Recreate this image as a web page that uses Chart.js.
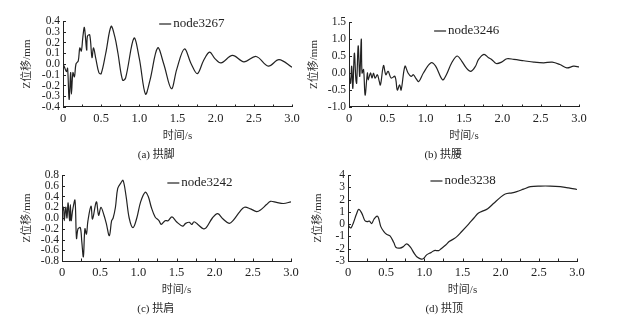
<!DOCTYPE html>
<html>
<head>
<meta charset="utf-8">
<script src="https://cdn.jsdelivr.net/npm/chart.js@4.4.1/dist/chart.umd.min.js"></script>
<style>
  html, body { margin: 0; padding: 0; background: #fff; }
  #wrap { position: relative; width: 618px; height: 322px; overflow: hidden; }
  canvas { position: absolute; }
</style>
</head>
<body>
<div id="wrap">
  <canvas id="cA" width="310" height="166" style="left:0px;top:0px"></canvas>
  <canvas id="cB" width="322" height="166" style="left:296px;top:0px"></canvas>
  <canvas id="cC" width="310" height="162" style="left:0px;top:160px"></canvas>
  <canvas id="cD" width="322" height="162" style="left:296px;top:160px"></canvas>
</div>
<script>
// time axis labels (shared by all panels)
const xTickLabels = ["0", "0.5", "1.0", "1.5", "2.0", "2.5", "3.0"];
const xMinorStep = 0.25;
const yTitle = "Z位移/mm";
const xTitle = "时间/s";
const captions = ["(a) 拱脚", "(b) 拱腰", "(c) 拱肩", "(d) 拱顶"];
const nodes = ["node3267", "node3246", "node3242", "node3238"];

// (a) 拱脚
const tA = [0, 0.02, 0.044, 0.06, 0.08, 0.1, 0.11, 0.13, 0.15, 0.17, 0.2, 0.22, 0.24, 0.26, 0.28, 0.31, 0.32, 0.35, 0.38, 0.4, 0.43,
            0.47, 0.5, 0.56, 0.63, 0.68, 0.72, 0.78, 0.82, 0.93, 1.0, 1.08, 1.14, 1.24, 1.32, 1.42, 1.49, 1.59, 1.68, 1.76,
            1.84, 1.92, 1.99, 2.07, 2.22, 2.37, 2.53, 2.69, 2.83, 3.0];
const zA = [0.0, -0.03, -0.07, -0.04, -0.33, -0.08, -0.28, -0.08, -0.12, 0.0, 0.03, 0.15, 0.12, 0.25, 0.34, 0.13, 0.26, 0.27, 0.06, 0.15, 0.05,
            -0.08, -0.09, 0.1, 0.35, 0.25, 0.1, -0.15, -0.13, 0.24, 0.05, -0.28, -0.15, 0.15, 0.0, -0.23, -0.05, 0.14, 0.0, -0.09,
            0.03, 0.11, 0.05, 0.01, 0.08, 0.02, 0.07, -0.02, 0.04, -0.03];

// (b) 拱腰
const tB = [0, 0.02, 0.035, 0.05, 0.07, 0.09, 0.1, 0.12, 0.14, 0.16, 0.17, 0.19, 0.21, 0.24, 0.25, 0.28, 0.3, 0.32, 0.34, 0.37, 0.39,
            0.41, 0.45, 0.48, 0.51, 0.55, 0.6, 0.63, 0.66, 0.68, 0.73, 0.77, 0.81, 0.84, 0.87, 0.91, 0.97, 1.07, 1.13, 1.22,
            1.27, 1.34, 1.41, 1.47, 1.53, 1.59, 1.65, 1.69, 1.76, 1.82, 1.86, 1.92, 1.99, 2.06, 2.15, 2.28, 2.41, 2.54, 2.65,
            2.75, 2.84, 2.93, 3.0];
const zB = [0.0, -0.3, 0.2, -0.45, 0.58, -0.2, -0.3, 0.8, -0.1, 1.0, 0.0, 0.1, -0.65, 0.0, -0.2, 0.0, -0.15, 0.0, -0.15, -0.05, -0.2,
            -0.35, 0.22, -0.05, 0.05, -0.15, -0.1, -0.5, -0.35, -0.5, 0.2, 0.0, -0.1, -0.05, -0.15, -0.25, 0.0, 0.3, 0.2, -0.2,
            -0.05, 0.3, 0.5, 0.35, 0.15, 0.05, 0.2, 0.4, 0.55, 0.45, 0.4, 0.28, 0.32, 0.42, 0.4, 0.36, 0.32, 0.3, 0.32,
            0.25, 0.15, 0.2, 0.18];

// (c) 拱肩
const tC = [0, 0.02, 0.03, 0.05, 0.065, 0.08, 0.1, 0.11, 0.12, 0.14, 0.17, 0.19, 0.21, 0.24, 0.26, 0.28, 0.3, 0.32, 0.34, 0.38, 0.4,
            0.45, 0.48, 0.51, 0.55, 0.58, 0.62, 0.65, 0.67, 0.7, 0.73, 0.77, 0.8, 0.84, 0.88, 0.93, 0.98, 1.03, 1.09, 1.13,
            1.17, 1.22, 1.27, 1.3, 1.35, 1.39, 1.44, 1.5, 1.58, 1.62, 1.67, 1.7, 1.73, 1.78, 1.85, 1.89, 1.97, 2.04, 2.11,
            2.19, 2.24, 2.33, 2.39, 2.47, 2.55, 2.6, 2.68, 2.73, 2.81, 2.9, 3.0];
const zC = [0.1, 0.2, -0.05, 0.2, 0.0, 0.28, -0.05, 0.25, -0.05, 0.15, 0.33, -0.38, -0.2, -0.18, -0.45, -0.72, -0.2, -0.3, -0.05, 0.22, -0.02,
            0.3, 0.05, 0.2, 0.05, -0.1, -0.33, -0.05, 0.0, 0.2, 0.55, 0.65, 0.7, 0.4, 0.0, -0.18, 0.0, 0.3, 0.48, 0.4,
            0.2, 0.02, -0.05, -0.12, -0.05, -0.05, 0.02, -0.07, -0.15, -0.1, -0.08, -0.12, -0.07, -0.12, -0.2, -0.18, 0.0, 0.08, -0.02,
            -0.1, -0.05, 0.12, 0.2, 0.17, 0.12, 0.15, 0.25, 0.31, 0.29, 0.27, 0.3];

// (d) 拱顶
const tD = [0, 0.02, 0.04, 0.07, 0.11, 0.14, 0.18, 0.22, 0.25, 0.28, 0.31, 0.34, 0.38, 0.4, 0.43, 0.47, 0.51, 0.55, 0.6, 0.63, 0.68,
            0.72, 0.77, 0.82, 0.87, 0.91, 0.96, 0.99, 1.03, 1.09, 1.13, 1.19, 1.22, 1.28, 1.33, 1.41, 1.49, 1.58, 1.65, 1.71,
            1.78, 1.83, 1.91, 2.0, 2.06, 2.15, 2.21, 2.3, 2.39, 2.52, 2.65, 2.78, 2.89, 3.0];
const zD = [0.0, -0.25, -0.3, 0.1, 0.8, 1.2, 0.9, 0.3, 0.2, 0.25, 0.05, 0.4, 0.65, 0.5, -0.2, -0.6, -0.85, -0.95, -1.5, -1.9, -1.95,
            -1.85, -1.6, -1.9, -2.4, -2.7, -2.85, -2.8, -2.5, -2.3, -2.15, -2.15, -2.0, -1.7, -1.4, -1.1, -0.6, 0.0, 0.5, 0.9,
            1.1, 1.25, 1.7, 2.2, 2.45, 2.55, 2.65, 2.85, 3.05, 3.1, 3.1, 3.05, 2.95, 2.82];

// y axis ranges: [min, max, step, decimals]
const yRangeA = [-0.4, 0.4, 0.1, 1];
const yRangeB = [-1.0, 1.5, 0.5, 1];
const yRangeC = [-0.8, 0.8, 0.2, 1];
const yRangeD = [-3, 4, 1, 0];

const FONT = '"Liberation Serif", "Noto Sans CJK SC", serif';
const INK = "#222";

// legend drawn inside the plot, like the original figure
const insideLegend = {
    id: "insideLegend",
    afterDraw(chart, args, opts) {
        const { ctx, chartArea: a } = chart;
        const x = a.left + opts.fx * (a.right - a.left);
        const y = a.top + opts.dy;
        ctx.save();
        ctx.strokeStyle = INK;
        ctx.lineWidth = 1.2;
        ctx.beginPath();
        ctx.moveTo(x, y);
        ctx.lineTo(x + 12, y);
        ctx.stroke();
        ctx.fillStyle = INK;
        ctx.font = "13px " + FONT;
        ctx.textBaseline = "middle";
        ctx.fillText(chart.data.datasets[0].label, x + 14, y);
        ctx.restore();
    }
};

// small tick marks pointing into the plot
const inwardTicks = {
    id: "inwardTicks",
    afterDraw(chart) {
        const { ctx, chartArea: a, scales } = chart;
        ctx.save();
        ctx.strokeStyle = INK;
        ctx.lineWidth = 1;
        ctx.beginPath();
        for (let v = scales.x.min; v <= scales.x.max + 1e-9; v += xMinorStep) {
            const px = Math.round(scales.x.getPixelForValue(v)) + 0.5;
            ctx.moveTo(px, a.bottom);
            ctx.lineTo(px, a.bottom - 2.5);
        }
        scales.y.ticks.forEach((tk) => {
            const py = Math.round(scales.y.getPixelForValue(tk.value)) + 0.5;
            ctx.moveTo(a.left, py);
            ctx.lineTo(a.left + 3, py);
        });
        ctx.stroke();
        ctx.restore();
    }
};

// cv: canvas rect, plot: target plot box (page coords), titleX: y-title centre
function panel(id, cv, plot, titleX, t, z, yr, caption, node, leg) {
    const padLeft = titleX - 6.6 - cv.l;
    const yWidth = plot.l - cv.l - padLeft;
    const xHeight = 35.6;
    const capBlock = 21.2;
    const padBottom = (cv.t + cv.h) - (plot.b + xHeight + capBlock);

    const pts = t.map((v, i) => ({ x: v, y: z[i] }));

    return new Chart(document.getElementById(id), {
        type: "line",
        data: {
            datasets: [{
                label: node,
                data: pts,
                borderColor: INK,
                borderWidth: 1.2,
                pointRadius: 0,
                tension: 0.35,
                fill: false
            }]
        },
        options: {
            responsive: false,
            animation: false,
            layout: {
                padding: {
                    left: padLeft,
                    top: plot.t - cv.t,
                    right: cv.l + cv.w - plot.r,
                    bottom: padBottom
                }
            },
            scales: {
                x: {
                    type: "linear",
                    min: 0,
                    max: 3,
                    afterFit: (s) => { s.height = xHeight; },
                    ticks: {
                        stepSize: 0.5,
                        color: INK,
                        padding: 4,
                        maxRotation: 0,
                        font: { family: FONT, size: 12.5 },
                        callback: (v, i) => xTickLabels[i]
                    },
                    grid: { drawOnChartArea: false, drawTicks: false, color: INK },
                    border: { color: INK, width: 1 },
                    title: {
                        display: true,
                        text: xTitle,
                        color: "#333",
                        padding: 0,
                        font: { family: FONT, size: 11 }
                    }
                },
                y: {
                    min: yr[0],
                    max: yr[1],
                    afterFit: (s) => { s.width = yWidth; },
                    ticks: {
                        stepSize: yr[2],
                        autoSkip: false,
                        color: INK,
                        padding: 3,
                        font: { family: FONT, size: 11.5 },
                        callback: (v) => v.toFixed(yr[3])
                    },
                    grid: { drawOnChartArea: false, drawTicks: false, color: INK },
                    border: { color: INK, width: 1 },
                    title: {
                        display: true,
                        text: yTitle,
                        color: "#333",
                        padding: 0,
                        font: { family: FONT, size: 11 }
                    }
                }
            },
            plugins: {
                legend: { display: false },
                tooltip: { enabled: false },
                title: {
                    display: true,
                    position: "bottom",
                    text: caption,
                    color: "#222",
                    padding: { top: 6, bottom: 2 },
                    font: { family: FONT, size: 11, weight: "normal" }
                },
                insideLegend: leg
            }
        },
        plugins: [insideLegend, inwardTicks]
    });
}

panel("cA", { l: 0, t: 0, w: 310, h: 166 }, { l: 63, t: 21, r: 292, b: 107 }, 27,
      tA, zA, yRangeA, captions[0], nodes[0], { fx: 0.42, dy: 3 });
panel("cB", { l: 296, t: 0, w: 322, h: 166 }, { l: 349, t: 22, r: 579, b: 107 }, 314,
      tB, zB, yRangeB, captions[1], nodes[1], { fx: 0.37, dy: 9 });
panel("cC", { l: 0, t: 160, w: 310, h: 162 }, { l: 62, t: 175, r: 291, b: 261 }, 27,
      tC, zC, yRangeC, captions[2], nodes[2], { fx: 0.46, dy: 8 });
panel("cD", { l: 296, t: 160, w: 322, h: 162 }, { l: 348, t: 175, r: 577, b: 261 }, 318,
      tD, zD, yRangeD, captions[3], nodes[3], { fx: 0.36, dy: 6 });
</script>
</body>
</html>
